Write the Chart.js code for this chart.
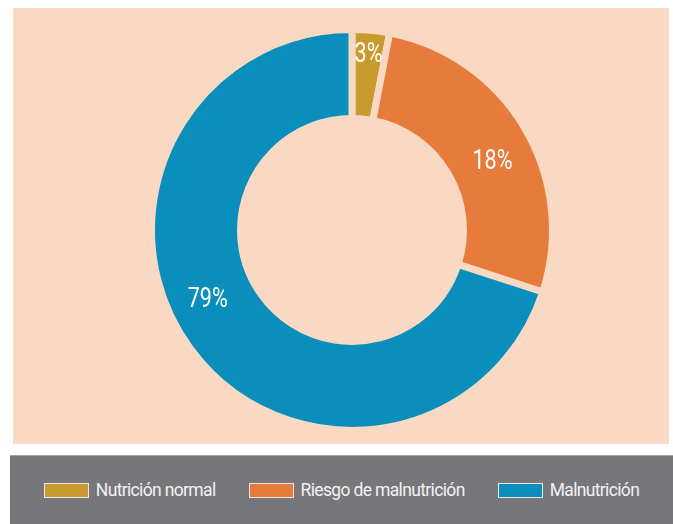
<!DOCTYPE html>
<html lang="es">
<head>
<meta charset="utf-8">
<title>Estado nutricional</title>
<script src="https://cdn.jsdelivr.net/npm/chart.js@4.4.1/dist/chart.umd.min.js"></script>
<style>
    html, body {
        margin: 0;
        padding: 0;
        background: #ffffff;
        width: 673px;
        height: 524px;
        overflow: hidden;
        font-family: Roboto, "Liberation Sans", sans-serif;
    }
    .panel {
        position: absolute;
        left: 13px;
        top: 8px;
        width: 656px;
        height: 436px;
        background: #f9d9c3;
    }
    .panel canvas {
        position: absolute;
        left: 0;
        top: 0;
    }
    .leyenda {
        position: absolute;
        left: 10px;
        top: 455px;
        width: 663px;
        height: 68px;
        background: #77777b;
        border-top: 1px solid #a3a3a7;
        display: flex;
        justify-content: center;
        align-items: center;
        gap: 33px;
    }
    .item {
        display: flex;
        align-items: center;
        gap: 7px;
        color: #f2f2f2;
        font-size: 17.5px;
        letter-spacing: -0.65px;
        white-space: nowrap;
    }
    .caja {
        width: 43px;
        height: 13px;
        border: 1px solid #e8e8e8;
    }
</style>
</head>
<body>

<div class="panel">
    <canvas id="grafico"></canvas>
</div>
<div class="leyenda" id="leyenda"></div>

<script>
// Datos del gráfico
const categorias = ['Nutrición normal', 'Riesgo de malnutrición', 'Malnutrición'];
// proporción de cada sector tal como está dibujado
const porcentajes = [3, 27, 70];
// rótulos impresos sobre los sectores
const etiquetas = ['3%', '18%', '79%'];
const colores = ['#c99a2e', '#e77b3c', '#0a8fbc'];

const fondo = '#f9d9c3';

// Plugin para escribir los porcentajes sobre cada sector
const rotulosSectores = {
    id: 'rotulosSectores',
    afterDatasetsDraw(chart, args, opts) {
        const ctx = chart.ctx;
        const arcos = chart.getDatasetMeta(0).data;
        arcos.forEach((arco, i) => {
            const p = arco.getProps(['x', 'y', 'startAngle', 'endAngle', 'innerRadius', 'outerRadius'], true);
            const ang = p.startAngle + opts.along[i] * (p.endAngle - p.startAngle);
            const r = p.innerRadius + opts.across[i] * (p.outerRadius - p.innerRadius);
            ctx.save();
            ctx.translate(p.x + Math.cos(ang) * r, p.y + Math.sin(ang) * r);
            // letra estrecha
            ctx.scale(opts.estrecho, 1);
            ctx.fillStyle = opts.color;
            ctx.font = opts.font;
            ctx.textAlign = 'center';
            ctx.textBaseline = 'middle';
            ctx.fillText(etiquetas[i], 0, 0);
            ctx.restore();
        });
    }
};

const canvas = document.getElementById('grafico');
canvas.width = 656;
canvas.height = 436;
canvas.style.width = '656px';
canvas.style.height = '436px';

new Chart(canvas.getContext('2d'), {
    type: 'doughnut',
    data: {
        labels: categorias,
        datasets: [{
            data: porcentajes,
            backgroundColor: colores,
            borderColor: fondo,
            borderWidth: 7,
            hoverOffset: 0
        }]
    },
    options: {
        responsive: false,
        animation: false,
        cutout: '55.6%',
        layout: {
            padding: { left: 22, right: 0, top: 18, bottom: 10 }
        },
        plugins: {
            legend: { display: false },
            tooltip: { enabled: false },
            rotulosSectores: {
                color: '#ffffff',
                font: '27px Roboto, "Liberation Sans", sans-serif',
                estrecho: 0.8,
                along: [0.5, 0.55, 0.54],
                across: [0.72, 0.5, 0.55]
            }
        }
    },
    plugins: [rotulosSectores]
});

// Leyenda en la franja gris
const leyenda = document.getElementById('leyenda');
categorias.forEach((nombre, i) => {
    const item = document.createElement('div');
    item.className = 'item';
    const caja = document.createElement('span');
    caja.className = 'caja';
    caja.style.background = colores[i];
    const texto = document.createElement('span');
    texto.textContent = nombre;
    item.appendChild(caja);
    item.appendChild(texto);
    leyenda.appendChild(item);
});
</script>
</body>
</html>
